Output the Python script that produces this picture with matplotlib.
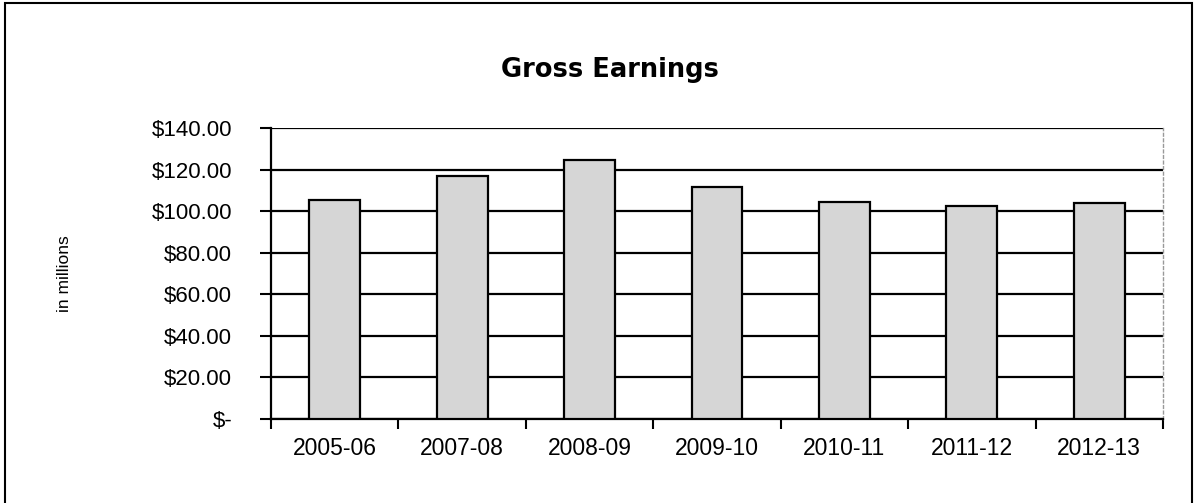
import matplotlib
matplotlib.use("Agg")
import matplotlib.pyplot as plt
from matplotlib.patches import Rectangle
from matplotlib.ticker import FuncFormatter, FixedLocator

categories = ["2005-06", "2007-08", "2008-09", "2009-10", "2010-11", "2011-12", "2012-13"]
earnings = [105.4, 117.0, 124.6, 111.5, 104.6, 102.5, 104.0]
y_ticks = [0, 20, 40, 60, 80, 100, 120, 140]

plt.rcParams['font.family'] = ['Liberation Sans', 'DejaVu Sans']

fig = plt.figure(figsize=(11.97, 5.03), dpi=100)
W, H = 1197, 503
ax = fig.add_axes([271 / W, 1 - 419 / H, (1163 - 271) / W, (419 - 128) / H])

x = list(range(len(categories)))
ax.bar(x, earnings, width=0.4, color="#d6d6d6", edgecolor="black", linewidth=1.6, zorder=3)

ax.set_xlim(-0.5, len(categories) - 0.5)
ax.set_ylim(0, 140)
ax.yaxis.set_major_locator(FixedLocator(y_ticks))
ax.yaxis.set_major_formatter(FuncFormatter(lambda v, p: "$-" if v == 0 else f"${v:.2f}"))
ax.grid(axis="y", color="black", linewidth=1.6, zorder=1)

ax.set_xticks(x)
ax.set_xticklabels(categories, fontsize=16.5)
ax.set_xticks([i - 0.5 for i in range(len(categories) + 1)], minor=True)
ax.tick_params(axis="x", which="major", length=0, pad=13)
ax.tick_params(axis="x", which="minor", length=7, width=1.5, direction="out", color="black")
ax.tick_params(axis="y", length=8, width=1.5, direction="out", labelsize=16, pad=20)

for s in ["left", "bottom"]:
    ax.spines[s].set_linewidth(1.6)
    ax.spines[s].set_color("black")
ax.spines["top"].set_visible(False)
ax.spines["right"].set_color("#999999")
ax.spines["right"].set_linewidth(1.0)
ax.spines["right"].set_linestyle((0, (2, 2)))

ax.set_ylabel("in millions", fontsize=12.5, labelpad=0)
ax.yaxis.set_label_coords((64 - 271) / (1163 - 271), 0.5)
ax.yaxis.label.set_verticalalignment("center")

fig.text(610 / W, 1 - 70 / H, "Gross Earnings", ha="center", va="center",
         fontsize=18.5, fontweight="bold", family=["DejaVu Sans"])

fig.patches.append(Rectangle((5 / W, -0.01), (1192 - 5) / W, 1 - 3 / H + 0.01,
                             transform=fig.transFigure, fill=False,
                             edgecolor="black", linewidth=1.5))

fig.savefig("out.png", dpi=100)
